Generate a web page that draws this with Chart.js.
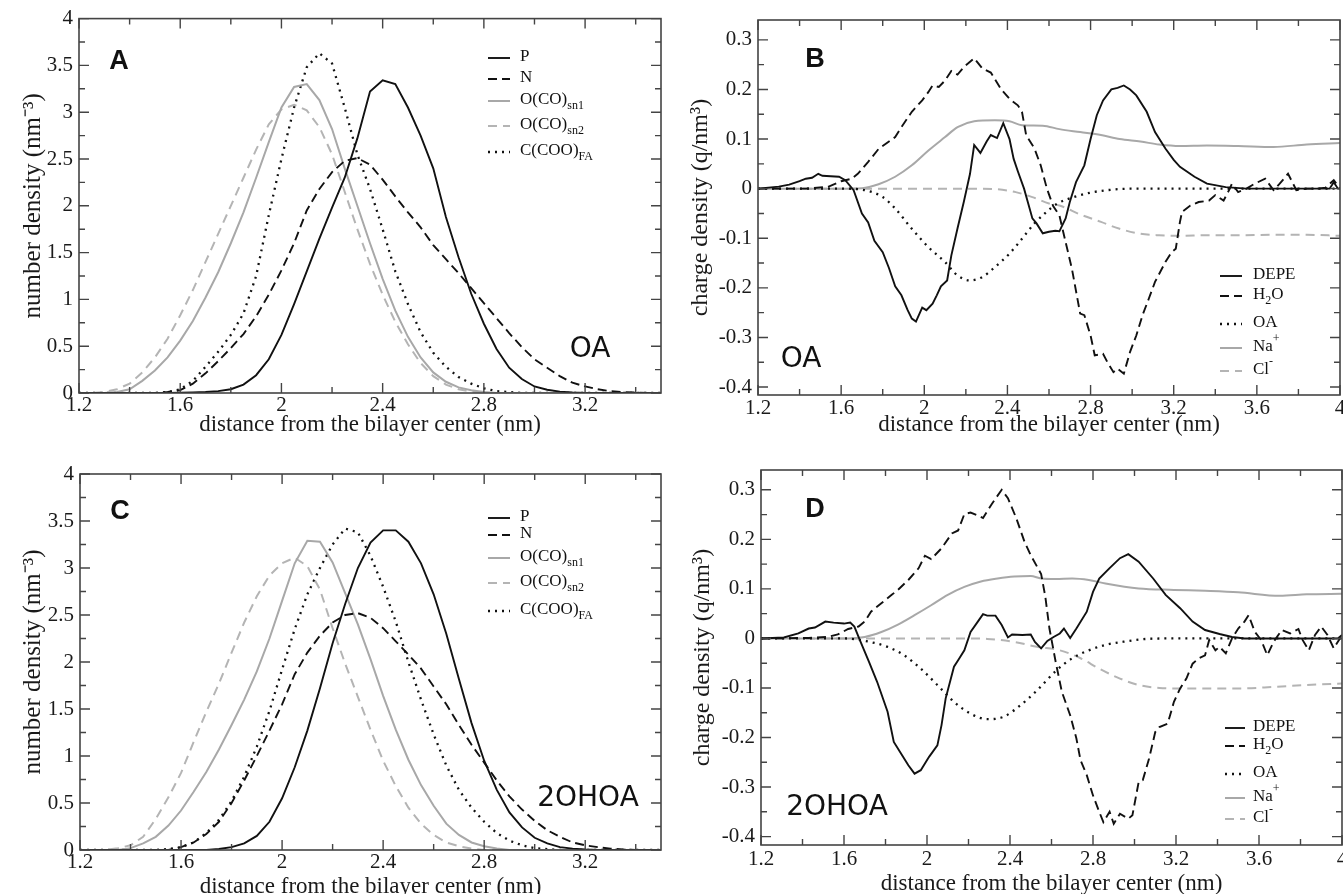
<!DOCTYPE html>
<html lang="en">
<head>
<meta charset="UTF-8" />
<title>Density profiles</title>
<script src="https://cdn.jsdelivr.net/npm/chart.js@4.4.0/dist/chart.umd.min.js"></script>
<style>
  html, body { margin: 0; padding: 0; background: #fff; overflow: hidden; }
  body { width: 1343px; height: 894px; position: relative; }
  .panel { position: absolute; }
  #boxA { left: 0; top: 0; width: 680px; height: 447px; }
  #boxB { left: 680px; top: 0; width: 680px; height: 447px; }
  #boxC { left: 0; top: 447px; width: 680px; height: 460px; }
  #boxD { left: 680px; top: 447px; width: 680px; height: 460px; }
</style>
</head>
<body>
<div class="panel" id="boxA"><canvas id="chartA"></canvas></div>
<div class="panel" id="boxB"><canvas id="chartB"></canvas></div>
<div class="panel" id="boxC"><canvas id="chartC"></canvas></div>
<div class="panel" id="boxD"><canvas id="chartD"></canvas></div>

<script>
// ---- tick labels ----
const densXTicks = [1.2, 1.6, 2.0, 2.4, 2.8, 3.2];
const densYTicks = [0, 0.5, 1, 1.5, 2, 2.5, 3, 3.5, 4];
const chgXTicks = [1.2, 1.6, 2.0, 2.4, 2.8, 3.2, 3.6, 4.0];
const chgYTicks = [-0.4, -0.3, -0.2, -0.1, 0, 0.1, 0.2, 0.3];

// ---- number density (panels A, C) ----
const densX = [1.2,1.25,1.3,1.35,1.4,1.45,1.5,1.55,1.6,1.65,1.7,1.75,1.8,1.85,1.9,1.95,2.0,2.05,2.1,2.15,2.2,2.25,2.3,2.35,2.4,2.45,2.5,2.55,2.6,2.65,2.7,2.75,2.8,2.85,2.9,2.95,3.0,3.05,3.1,3.15,3.2,3.25,3.3,3.35,3.4,3.45,3.5];

const aP   = [0,0,0,0,0,0,0,0,0.002,0.005,0.01,0.02,0.04,0.09,0.19,0.36,0.62,0.95,1.30,1.65,1.98,2.30,2.72,3.22,3.34,3.30,3.05,2.75,2.40,1.88,1.45,1.06,0.74,0.47,0.27,0.15,0.07,0.035,0.015,0.006,0,0,0,0,0,0,0];
const aN   = [0,0,0,0,0,0,0,0.01,0.03,0.10,0.21,0.34,0.48,0.63,0.82,1.05,1.31,1.60,1.95,2.18,2.36,2.48,2.51,2.44,2.28,2.10,1.93,1.77,1.58,1.43,1.28,1.12,0.96,0.80,0.64,0.49,0.36,0.27,0.18,0.11,0.07,0.04,0.02,0.01,0.005,0,0];
const aSn1 = [0,0,0,0.01,0.04,0.13,0.24,0.38,0.56,0.77,1.02,1.29,1.60,1.93,2.30,2.68,3.05,3.27,3.30,3.13,2.82,2.40,2.00,1.60,1.22,0.88,0.60,0.38,0.22,0.12,0.06,0.03,0.01,0,0,0,0,0,0,0,0,0,0,0,0,0,0];
const aSn2 = [0,0,0.01,0.04,0.10,0.22,0.38,0.58,0.83,1.10,1.40,1.70,2.00,2.30,2.60,2.87,3.03,3.08,3.02,2.84,2.55,2.15,1.75,1.38,1.05,0.76,0.52,0.32,0.18,0.09,0.04,0.015,0,0,0,0,0,0,0,0,0,0,0,0,0,0,0];
const aFA  = [0,0,0,0,0,0,0,0.01,0.04,0.13,0.28,0.44,0.62,0.85,1.25,1.90,2.50,3.05,3.48,3.63,3.52,3.05,2.55,2.18,1.75,1.30,0.95,0.65,0.43,0.28,0.17,0.10,0.05,0.02,0.01,0,0,0,0,0,0,0,0,0,0,0,0];

const cP   = [0,0,0,0,0,0,0,0,0,0,0,0.01,0.03,0.07,0.15,0.30,0.55,0.88,1.27,1.72,2.20,2.62,3.00,3.27,3.40,3.40,3.28,3.05,2.72,2.30,1.82,1.35,0.95,0.64,0.40,0.24,0.13,0.07,0.03,0.015,0.005,0,0,0,0,0,0];
const cN   = [0,0,0,0,0,0,0,0,0.03,0.08,0.17,0.30,0.50,0.74,1.00,1.27,1.55,1.87,2.10,2.28,2.42,2.50,2.52,2.47,2.36,2.22,2.08,1.93,1.74,1.55,1.33,1.12,0.93,0.74,0.57,0.43,0.31,0.21,0.14,0.08,0.05,0.03,0.015,0.005,0,0,0];
const cSn1 = [0,0,0,0,0.02,0.07,0.14,0.26,0.42,0.62,0.83,1.07,1.33,1.60,1.90,2.25,2.65,3.05,3.29,3.28,3.06,2.73,2.40,2.03,1.64,1.28,0.96,0.69,0.47,0.28,0.16,0.08,0.04,0.015,0,0,0,0,0,0,0,0,0,0,0,0,0];
const cSn2 = [0,0,0,0.02,0.05,0.14,0.33,0.56,0.82,1.15,1.47,1.77,2.10,2.42,2.70,2.92,3.05,3.11,3.02,2.77,2.36,1.98,1.63,1.28,0.95,0.68,0.45,0.28,0.16,0.08,0.04,0.015,0,0,0,0,0,0,0,0,0,0,0,0,0,0,0];
const cFA  = [0,0,0,0,0,0,0,0.01,0.03,0.08,0.18,0.32,0.52,0.78,1.10,1.48,1.92,2.35,2.72,3.00,3.25,3.42,3.38,3.13,2.80,2.43,2.00,1.60,1.23,0.90,0.64,0.45,0.30,0.18,0.10,0.05,0.02,0.01,0,0,0,0,0,0,0,0,0];

// ---- charge density, panel B (OA) ----
const bDepeX = [1.2,1.3,1.35,1.4,1.43,1.46,1.49,1.51,1.55,1.59,1.62,1.66,1.7,1.73,1.76,1.8,1.83,1.86,1.89,1.92,1.94,1.96,1.99,2.01,2.04,2.06,2.08,2.11,2.13,2.16,2.19,2.22,2.24,2.27,2.3,2.32,2.35,2.38,2.41,2.43,2.45,2.48,2.5,2.52,2.54,2.57,2.6,2.63,2.65,2.68,2.7,2.73,2.77,2.8,2.83,2.86,2.9,2.93,2.96,2.99,3.02,3.07,3.11,3.16,3.2,3.23,3.3,3.36,3.45,3.55,3.95,3.97,3.99,4.0];
const bDepeY = [0,0.004,0.008,0.015,0.02,0.022,0.03,0.026,0.025,0.024,0.017,-0.003,-0.05,-0.068,-0.105,-0.128,-0.16,-0.197,-0.215,-0.245,-0.262,-0.268,-0.24,-0.245,-0.232,-0.215,-0.197,-0.185,-0.135,-0.08,-0.027,0.03,0.088,0.072,0.095,0.108,0.102,0.132,0.10,0.06,0.035,0,-0.03,-0.06,-0.07,-0.09,-0.087,-0.085,-0.086,-0.06,-0.027,0.013,0.047,0.10,0.148,0.178,0.20,0.203,0.208,0.2,0.188,0.155,0.114,0.081,0.058,0.044,0.024,0.01,0.003,0,0,0.013,0,0];
const bH2oX = [1.2,1.43,1.54,1.6,1.65,1.68,1.73,1.78,1.83,1.86,1.89,1.94,1.99,2.02,2.04,2.07,2.1,2.13,2.16,2.19,2.24,2.28,2.32,2.37,2.41,2.45,2.47,2.49,2.53,2.56,2.59,2.62,2.65,2.68,2.71,2.75,2.77,2.8,2.82,2.86,2.88,2.91,2.93,2.96,2.99,3.02,3.05,3.08,3.11,3.16,3.19,3.21,3.23,3.24,3.28,3.32,3.37,3.4,3.44,3.47,3.48,3.51,3.55,3.59,3.64,3.68,3.71,3.75,3.79,3.84,3.89,3.93,3.97,4.0];
const bH2oY = [0,0,0.004,0.015,0.02,0.03,0.054,0.08,0.095,0.104,0.124,0.155,0.178,0.195,0.208,0.205,0.218,0.237,0.23,0.245,0.263,0.242,0.234,0.2,0.181,0.168,0.155,0.108,0.081,0.047,0,-0.035,-0.054,-0.108,-0.161,-0.252,-0.255,-0.296,-0.336,-0.333,-0.349,-0.37,-0.363,-0.373,-0.329,-0.296,-0.255,-0.222,-0.188,-0.148,-0.128,-0.121,-0.067,-0.047,-0.034,-0.027,-0.024,-0.013,-0.024,0,0.01,-0.007,0,0.01,0.02,-0.003,0.01,0.03,-0.003,0,0,0.002,0.017,0];
const bOaX = [1.2,1.6,1.7,1.8,1.86,1.94,2.02,2.1,2.16,2.22,2.28,2.34,2.41,2.47,2.53,2.58,2.64,2.72,2.8,2.88,3.0,4.0];
const bOaY = [0,0,-0.002,-0.017,-0.04,-0.081,-0.118,-0.148,-0.175,-0.185,-0.178,-0.158,-0.131,-0.101,-0.07,-0.05,-0.03,-0.017,-0.008,-0.003,0,0];
const bNaX = [1.2,1.59,1.7,1.78,1.86,1.94,2.02,2.1,2.16,2.24,2.34,2.41,2.47,2.57,2.65,2.75,2.85,2.94,3.04,3.13,3.23,3.36,3.51,3.68,3.84,4.0];
const bNaY = [0,0,0.001,0.009,0.024,0.047,0.077,0.104,0.124,0.136,0.138,0.136,0.128,0.127,0.12,0.114,0.108,0.1,0.095,0.089,0.086,0.087,0.086,0.084,0.089,0.092];
const bClX = [1.2,2.21,2.34,2.44,2.52,2.6,2.65,2.75,2.85,2.94,3.04,3.13,3.23,3.36,3.51,3.68,3.84,4.0];
const bClY = [0,0,-0.001,-0.007,-0.017,-0.03,-0.034,-0.052,-0.067,-0.081,-0.091,-0.094,-0.095,-0.094,-0.094,-0.093,-0.093,-0.095];

// ---- charge density, panel D (2OHOA) ----
const dDepeX = [1.2,1.31,1.38,1.43,1.46,1.51,1.55,1.6,1.63,1.65,1.68,1.72,1.76,1.81,1.84,1.88,1.91,1.94,1.97,2.01,2.05,2.07,2.09,2.13,2.15,2.18,2.21,2.25,2.27,2.29,2.33,2.36,2.39,2.41,2.46,2.5,2.52,2.55,2.58,2.61,2.64,2.66,2.69,2.72,2.77,2.8,2.83,2.88,2.93,2.97,3.02,3.09,3.15,3.22,3.28,3.34,3.41,3.47,3.53,3.98,4.0];
const dDepeY = [0,0.002,0.01,0.02,0.022,0.034,0.032,0.03,0.032,0.024,-0.007,-0.047,-0.088,-0.148,-0.209,-0.236,-0.256,-0.273,-0.266,-0.239,-0.216,-0.175,-0.121,-0.057,-0.044,-0.024,0.013,0.037,0.049,0.046,0.046,0.027,0.002,0.008,0.007,0.008,-0.007,-0.02,-0.005,0.003,0.01,0.02,0.001,0.02,0.054,0.094,0.121,0.142,0.162,0.17,0.155,0.121,0.088,0.061,0.034,0.017,0.009,0.003,0,0,0.007];
const dH2oX = [1.2,1.43,1.52,1.57,1.62,1.67,1.7,1.73,1.78,1.83,1.86,1.91,1.96,1.99,2.02,2.07,2.12,2.15,2.18,2.21,2.24,2.27,2.31,2.36,2.39,2.43,2.47,2.5,2.55,2.57,2.59,2.62,2.65,2.69,2.72,2.74,2.77,2.8,2.83,2.85,2.88,2.9,2.93,2.97,2.99,3.02,3.04,3.07,3.1,3.12,3.16,3.19,3.22,3.25,3.28,3.31,3.34,3.36,3.39,3.41,3.44,3.47,3.5,3.53,3.55,3.58,3.61,3.64,3.67,3.71,3.75,3.79,3.81,3.84,3.87,3.9,3.93,3.96,3.99];
const dH2oY = [0,0.001,0.003,0.008,0.019,0.024,0.034,0.054,0.071,0.088,0.098,0.118,0.142,0.167,0.16,0.182,0.212,0.218,0.251,0.254,0.249,0.243,0.27,0.30,0.283,0.243,0.195,0.168,0.13,0.085,0.02,-0.047,-0.108,-0.155,-0.202,-0.246,-0.276,-0.317,-0.35,-0.371,-0.35,-0.374,-0.354,-0.364,-0.357,-0.29,-0.286,-0.243,-0.189,-0.179,-0.172,-0.128,-0.101,-0.081,-0.051,-0.04,-0.034,-0.003,-0.024,-0.017,-0.03,0,0.02,0.034,0.047,0.013,-0.003,-0.034,-0.007,0.017,0.01,0.019,-0.003,-0.024,0.007,0.024,0.007,-0.02,0];
const dOaX = [1.2,1.6,1.7,1.81,1.89,1.97,2.05,2.13,2.21,2.29,2.37,2.45,2.53,2.62,2.7,2.78,2.86,2.94,3.06,3.19,4.0];
const dOaY = [0,0,-0.005,-0.017,-0.034,-0.061,-0.094,-0.128,-0.152,-0.163,-0.158,-0.135,-0.105,-0.066,-0.04,-0.024,-0.013,-0.007,-0.001,0,0];
const dNaX = [1.2,1.62,1.7,1.78,1.86,1.94,2.02,2.1,2.18,2.26,2.34,2.42,2.5,2.55,2.62,2.7,2.78,2.86,3.02,3.19,3.34,3.5,3.7,3.83,4.0];
const dNaY = [0,0,0.003,0.013,0.028,0.047,0.067,0.088,0.104,0.115,0.121,0.125,0.126,0.121,0.12,0.121,0.118,0.111,0.101,0.098,0.096,0.093,0.086,0.089,0.09];
const dClX = [1.2,2.2,2.29,2.42,2.53,2.64,2.74,2.83,2.93,3.02,3.12,3.22,3.34,3.5,3.67,3.83,4.0];
const dClY = [0,0,-0.001,-0.007,-0.017,-0.024,-0.04,-0.061,-0.081,-0.094,-0.1,-0.101,-0.101,-0.101,-0.098,-0.094,-0.091];

// line styles (xmgrace look)
const styles = {
  solid:    { borderColor: '#111', borderWidth: 1.9, borderDash: [] },
  dash:     { borderColor: '#111', borderWidth: 1.9, borderDash: [9, 5] },
  dot:      { borderColor: '#111', borderWidth: 2.3, borderDash: [2, 5] },
  grey:     { borderColor: '#a8a8a8', borderWidth: 2, borderDash: [] },
  greyDash: { borderColor: '#b4b4b4', borderWidth: 2, borderDash: [9, 6] }
};

const SERIF = '"Liberation Serif", "Times New Roman", serif';
const fmt = v => String(+Number(v).toFixed(2));

function minorOf(major, min, max) {
  const step = major[1] - major[0];
  const out = [];
  if (major[0] - step / 2 >= min - 1e-9) out.push(major[0] - step / 2);
  major.forEach(v => { if (v + step / 2 <= max + 1e-9) out.push(v + step / 2); });
  return out;
}

// subscript _{..} and superscript ^{..}
function drawRich(ctx, str, x, y) {
  const re = /([_^])\{([^}]*)\}|([^_^]+)/g;
  let m;
  while ((m = re.exec(str))) {
    if (m[3]) {
      ctx.font = '17px ' + SERIF;
      ctx.fillText(m[3], x, y);
      x += ctx.measureText(m[3]).width;
    } else {
      ctx.font = '12px ' + SERIF;
      ctx.fillText(m[2], x, y + (m[1] === '_' ? 6 : -8));
      x += ctx.measureText(m[2]).width;
    }
  }
}

function decorPlugin(o) {
  return {
    id: 'decor',
    afterDatasetsDraw(chart) {
      const { ctx, chartArea: a, scales } = chart;
      const sx = scales.x, sy = scales.y;
      ctx.save();
      ctx.setLineDash([]);
      ctx.strokeStyle = '#444';
      ctx.lineWidth = 1.6;
      ctx.strokeRect(a.left, a.top, a.right - a.left, a.bottom - a.top);

      // inward ticks on all four sides
      const xTick = (vals, len) => vals.forEach(v => {
        const p = sx.getPixelForValue(v);
        ctx.beginPath();
        ctx.moveTo(p, a.bottom); ctx.lineTo(p, a.bottom - len);
        ctx.moveTo(p, a.top); ctx.lineTo(p, a.top + len);
        ctx.stroke();
      });
      const yTick = (vals, len) => vals.forEach(v => {
        const p = sy.getPixelForValue(v);
        ctx.beginPath();
        ctx.moveTo(a.left, p); ctx.lineTo(a.left + len, p);
        ctx.moveTo(a.right, p); ctx.lineTo(a.right - len, p);
        ctx.stroke();
      });
      ctx.lineWidth = 1.4;
      xTick(o.xTicks, 10);
      xTick(minorOf(o.xTicks, o.xMin, o.xMax), 6);
      yTick(o.yTicks, 10);
      yTick(minorOf(o.yTicks, o.yMin, o.yMax), 6);

      // legend
      ctx.textBaseline = 'middle';
      ctx.textAlign = 'left';
      chart.data.datasets.forEach((ds, i) => {
        const y = o.legendY[i];
        ctx.strokeStyle = ds.borderColor;
        ctx.lineWidth = ds.borderWidth;
        ctx.setLineDash(ds.borderDash);
        ctx.beginPath();
        ctx.moveTo(o.legendX[0], y + 1);
        ctx.lineTo(o.legendX[1], y + 1);
        ctx.stroke();
        ctx.setLineDash([]);
        ctx.fillStyle = '#111';
        drawRich(ctx, ds.label, o.legendX[2], y);
      });

      // panel letter and system tag
      ctx.textAlign = 'center';
      ctx.fillStyle = '#111';
      ctx.font = 'bold 27px "Liberation Sans", Arial, sans-serif';
      ctx.fillText(o.letter, o.letterAt[0], o.letterAt[1]);
      ctx.font = '28px "DejaVu Sans", sans-serif';
      ctx.fillText(o.tag, o.tagAt[0], o.tagAt[1]);
      ctx.restore();
    }
  };
}

function makePanel(canvasId, o) {
  const datasets = o.series.map(s => Object.assign({
    label: s.name,
    data: s.x.map((x, i) => ({ x: x, y: s.y[i] })),
    pointRadius: 0,
    fill: false,
    tension: 0,
    cubicInterpolationMode: s.smooth ? 'monotone' : 'default'
  }, styles[s.style]));

  new Chart(document.getElementById(canvasId), {
    type: 'line',
    data: { datasets: datasets },
    options: {
      responsive: true,
      maintainAspectRatio: false,
      animation: false,
      layout: { padding: { top: o.padTop, right: o.padRight, left: 0, bottom: 0 } },
      plugins: { legend: { display: false }, tooltip: { enabled: false } },
      scales: {
        x: {
          type: 'linear', min: o.xMin, max: o.xMax,
          grid: { display: false, drawTicks: false },
          border: { display: false },
          afterBuildTicks: s => { s.ticks = o.xTicks.map(v => ({ value: v })); },
          afterFit: s => { s.height = o.xHeight; },
          ticks: { padding: o.xLabelPad, autoSkip: false, maxRotation: 0, color: '#1a1a1a',
                   font: { family: SERIF, size: 21 }, callback: v => fmt(v) },
          title: { display: true, text: 'distance from the bilayer center (nm)', color: '#1a1a1a',
                   font: { family: SERIF, size: 23 }, padding: { top: 0, bottom: o.xTitlePad } }
        },
        y: {
          type: 'linear', min: o.yMin, max: o.yMax,
          grid: { display: false, drawTicks: false },
          border: { display: false },
          afterBuildTicks: s => { s.ticks = o.yTicks.map(v => ({ value: v })); },
          afterFit: s => { s.width = o.yWidth; },
          ticks: { padding: 6, autoSkip: false, color: '#1a1a1a',
                   font: { family: SERIF, size: 21 }, callback: v => fmt(v) },
          title: { display: true, text: o.yTitle, color: '#1a1a1a',
                   font: { family: SERIF, size: o.yTitleSize }, padding: { top: o.yTitlePad, bottom: 0 } }
        }
      }
    },
    plugins: [decorPlugin(o)]
  });
}

makePanel('chartA', {
  xMin: 1.2, xMax: 3.5, yMin: 0, yMax: 4, xTicks: densXTicks, yTicks: densYTicks,
  padTop: 17, padRight: 19, yWidth: 79, xHeight: 54, xLabelPad: 0, xTitlePad: 8, yTitlePad: 18,
  yTitle: 'number density (nm\u207B\u00B3)', yTitleSize: 25,
  series: [
    { name: 'P', x: densX, y: aP, style: 'solid' },
    { name: 'N', x: densX, y: aN, style: 'dash' },
    { name: 'O(CO)_{sn1}', x: densX, y: aSn1, style: 'grey' },
    { name: 'O(CO)_{sn2}', x: densX, y: aSn2, style: 'greyDash' },
    { name: 'C(COO)_{FA}', x: densX, y: aFA, style: 'dot' }
  ],
  legendX: [488, 510, 520], legendY: [57, 78, 100, 125, 151],
  letter: 'A', letterAt: [119, 62], tag: 'OA', tagAt: [590, 350]
});

makePanel('chartB', {
  xMin: 1.2, xMax: 4.0, yMin: -0.416, yMax: 0.34, xTicks: chgXTicks, yTicks: chgYTicks,
  padTop: 20, padRight: 20, yWidth: 78, xHeight: 52, xLabelPad: 1, xTitlePad: 8, yTitlePad: 6,
  yTitle: 'charge density (q/nm\u00B3)', yTitleSize: 24,
  series: [
    { name: 'DEPE', x: bDepeX, y: bDepeY, style: 'solid' },
    { name: 'H_{2}O', x: bH2oX, y: bH2oY, style: 'dash' },
    { name: 'OA', x: bOaX, y: bOaY, style: 'dot', smooth: true },
    { name: 'Na^{+}', x: bNaX, y: bNaY, style: 'grey', smooth: true },
    { name: 'Cl^{-}', x: bClX, y: bClY, style: 'greyDash', smooth: true }
  ],
  legendX: [540, 562, 573], legendY: [275, 295, 323, 347, 370],
  letter: 'B', letterAt: [135, 60], tag: 'OA', tagAt: [121, 360]
});

makePanel('chartC', {
  xMin: 1.2, xMax: 3.5, yMin: 0, yMax: 4, xTicks: densXTicks, yTicks: densYTicks,
  padTop: 27, padRight: 19, yWidth: 80, xHeight: 57, xLabelPad: 0, xTitlePad: 6, yTitlePad: 18,
  yTitle: 'number density (nm\u207B\u00B3)', yTitleSize: 25,
  series: [
    { name: 'P', x: densX, y: cP, style: 'solid' },
    { name: 'N', x: densX, y: cN, style: 'dash' },
    { name: 'O(CO)_{sn1}', x: densX, y: cSn1, style: 'grey' },
    { name: 'O(CO)_{sn2}', x: densX, y: cSn2, style: 'greyDash' },
    { name: 'C(COO)_{FA}', x: densX, y: cFA, style: 'dot' }
  ],
  legendX: [488, 510, 520], legendY: [70, 87, 110, 135, 163],
  letter: 'C', letterAt: [120, 65], tag: '2OHOA', tagAt: [588, 352]
});

makePanel('chartD', {
  xMin: 1.2, xMax: 4.0, yMin: -0.417, yMax: 0.34, xTicks: chgXTicks, yTicks: chgYTicks,
  padTop: 23, padRight: 18, yWidth: 81, xHeight: 62, xLabelPad: 2, xTitlePad: 9, yTitlePad: 8,
  yTitle: 'charge density (q/nm\u00B3)', yTitleSize: 24,
  series: [
    { name: 'DEPE', x: dDepeX, y: dDepeY, style: 'solid' },
    { name: 'H_{2}O', x: dH2oX, y: dH2oY, style: 'dash' },
    { name: 'OA', x: dOaX, y: dOaY, style: 'dot', smooth: true },
    { name: 'Na^{+}', x: dNaX, y: dNaY, style: 'grey', smooth: true },
    { name: 'Cl^{-}', x: dClX, y: dClY, style: 'greyDash', smooth: true }
  ],
  legendX: [545, 565, 573], legendY: [280, 298, 326, 350, 371],
  letter: 'D', letterAt: [135, 63], tag: '2OHOA', tagAt: [157, 361]
});
</script>
</body>
</html>
